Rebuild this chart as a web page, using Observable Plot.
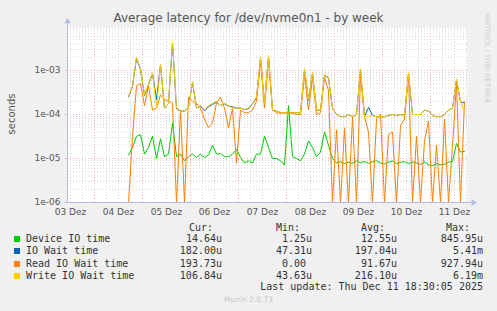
<!DOCTYPE html>
<html><head><meta charset="utf-8">
<script src="https://cdn.jsdelivr.net/npm/d3@7"></script>
<script src="https://cdn.jsdelivr.net/npm/@observablehq/plot@0.6"></script>
<style>
html,body{margin:0;padding:0;background:#f0f0f0;}
#wrap{position:relative;width:497px;height:311px;background:#f0f0f0;overflow:hidden;font-family:"DejaVu Sans",sans-serif;}
#chart{position:absolute;left:0;top:0;}
.t{position:absolute;white-space:pre;}
.mono{font-family:"DejaVu Sans Mono",monospace;font-size:10px;color:#333;line-height:12px;height:12px;}
.sq{position:absolute;width:6px;height:6px;}
</style></head><body><div id="wrap"><div id="chart"></div></div>
<script>
// ---- data (seconds), sampled every 2 hours from 04 Dec 17:00 UTC ----
const firstSample = Date.UTC(2025, 11, 4, 17, 0);
const stepHours = 2;

const deviceIO = [1.2e-5,1.78e-5,3.2e-5,3.5e-5,1.26e-5,1.78e-5,3.2e-5,1.0e-5,2.8e-5,1.1e-5,
 1.26e-5,6.3e-5,1.1e-5,1.26e-5,8.9e-6,1.1e-5,1.26e-5,1.05e-5,1.26e-5,1.05e-5,
 1.2e-5,2.0e-5,1.26e-5,1.3e-5,1.1e-5,1.1e-5,1.26e-5,1.6e-5,1.07e-5,7.9e-6,
 8.9e-6,7.9e-6,1.26e-5,1.26e-5,3.2e-5,1.78e-5,1.0e-5,1.0e-5,8.9e-6,7.1e-6,
 1.6e-4,1.1e-5,1.0e-5,8.9e-6,1.26e-5,2.5e-5,1.78e-5,1.1e-5,1.4e-5,4.0e-5,
 2.0e-5,1.0e-5,7.9e-6,8.5e-6,7.6e-6,8.3e-6,7.8e-6,8.9e-6,8.0e-6,8.6e-6,
 7.7e-6,8.4e-6,8.9e-6,7.9e-6,7.5e-6,8.3e-6,8.8e-6,7.6e-6,8.2e-6,8.5e-6,
 7.6e-6,8.3e-6,7.9e-6,7.3e-6,8.4e-6,7.2e-6,6.9e-6,7.6e-6,7.2e-6,7.4e-6,
 8.2e-6,8.6e-6,2.2e-5,1.4e-5,1.46e-5];

const ioWait = [2.5e-4,4.3e-4,1.9e-3,1.05e-3,2.7e-4,4.8e-4,8.5e-4,2.2e-4,1.35e-3,1.4e-4,
 1.8e-4,4.3e-3,1.35e-4,1.2e-4,1.2e-4,1.45e-4,5.4e-4,1.4e-4,1.55e-4,1.2e-4,
 1.5e-4,1.7e-4,1.9e-4,1.6e-4,1.75e-4,1.55e-4,1.5e-4,1.4e-4,1.4e-4,1.3e-4,
 1.35e-4,1.75e-4,2.4e-4,1.9e-3,1.75e-4,2.1e-3,1.25e-4,1.2e-4,1.1e-4,1.1e-4,
 1.07e-4,1.1e-4,1.1e-4,1.1e-4,1.05e-3,2.1e-4,8.6e-4,1.25e-4,1.25e-4,7.8e-4,
 6.8e-4,1.35e-4,1.0e-4,9.0e-5,8.9e-5,1.0e-4,8.9e-5,1.0e-4,1.05e-3,9.0e-5,
 1.45e-4,9.5e-5,8.9e-5,8.9e-5,8.9e-5,9.5e-5,1.0e-4,9.5e-5,1.0e-4,9.5e-5,
 8.6e-4,1.0e-4,1.0e-4,1.0e-4,1.25e-4,1.2e-4,9.5e-5,8.9e-5,8.9e-5,1.0e-4,
 1.25e-4,1.4e-4,6.0e-4,1.95e-4,1.82e-4];

const readWait = [0,3.2e-5,4.5e-4,5.0e-4,1.6e-4,4.5e-4,1.26e-4,1.4e-4,2.8e-4,2.2e-4,
 2.0e-4,1.8e-4,0,1.26e-4,0,2.5e-4,2.0e-4,1.8e-4,1.4e-4,7.9e-5,
 5.0e-5,6.3e-5,1.8e-4,2.5e-4,1.4e-4,5.0e-5,1.4e-4,7.9e-6,1.26e-4,1.1e-4,
 1.1e-4,1.26e-4,2.0e-4,1.6e-3,1.4e-4,1.8e-3,1.26e-4,1.1e-4,1.07e-4,1.1e-4,
 1.1e-4,1.07e-4,1.0e-4,1.0e-4,8.0e-4,1.26e-4,7.0e-4,1.0e-4,1.1e-4,7.0e-4,
 3.5e-4,0,4.5e-5,0,5.0e-5,0,8.9e-5,0,8.0e-4,8.9e-5,
 4.0e-5,0,7.9e-5,1.0e-4,0,3.5e-5,4.0e-5,0,5.6e-5,7.9e-5,
 8.0e-4,0,3.2e-5,0,2.5e-5,7.1e-5,0,2.0e-5,0,7.9e-5,
 0,2.0e-5,5.0e-4,0,1.94e-4];

const writeWait = [2.6e-4,4.5e-4,2.0e-3,1.1e-3,2.8e-4,5.0e-4,8.9e-4,1.4e-4,1.4e-3,1.4e-4,
 1.8e-4,4.5e-3,1.4e-4,1.2e-4,1.2e-4,1.4e-4,5.6e-4,1.4e-4,1.6e-4,1.26e-4,
 1.6e-4,1.8e-4,2.0e-4,1.6e-4,1.8e-4,1.6e-4,1.4e-4,1.4e-4,1.4e-4,1.3e-4,
 1.4e-4,1.8e-4,2.5e-4,2.0e-3,1.8e-4,2.2e-3,1.26e-4,1.2e-4,1.1e-4,1.1e-4,
 1.07e-4,1.1e-4,1.1e-4,1.1e-4,1.1e-3,2.2e-4,9.0e-4,1.26e-4,1.26e-4,8.0e-4,
 7.0e-4,1.4e-4,1.0e-4,8.9e-5,8.9e-5,1.0e-4,8.9e-5,1.0e-4,1.1e-3,8.9e-5,
 8.9e-5,9.5e-5,8.9e-5,8.9e-5,8.9e-5,9.5e-5,1.0e-4,9.5e-5,1.0e-4,9.5e-5,
 8.9e-4,1.0e-4,1.0e-4,1.0e-4,1.26e-4,1.2e-4,9.5e-5,8.9e-5,8.9e-5,1.0e-4,
 1.26e-4,1.4e-4,6.3e-4,2.0e-4,1.07e-4];

const seriesNames = ["Device IO time","IO Wait time","Read IO Wait time","Write IO Wait time"];
const seriesColors = ["#00cc00","#0066b3","#ff8000","#ffcc00"];
const curVals = ["14.64u","182.00u","193.73u","106.84u"];
const minVals = ["1.25u","47.31u","0.00 ","43.63u"];
const avgVals = ["12.55u","197.04u","91.67u","216.10u"];
const maxVals = ["845.95u","5.41m","927.94u","6.19m"];
const yTicks = [1e-6,1e-5,1e-4,1e-3];
const dayLabels = ["03","04","05","06","07","08","09","10","11"];

const titleText = "Average latency for /dev/nvme0n1 - by week";
const yLabel = "seconds";
const lastUpdate = "Last update: Thu Dec 11 18:30:05 2025";
const footer = "Munin 2.0.73";
const sideText = "RRDTOOL / TOBI OETIKER";

// ---- scales / helpers ----
const start = new Date(Date.UTC(2025, 11, 3, 10, 30));
const end = new Date(Date.UTC(2025, 11, 11, 18, 30));
const yTop = 9.5e-3;
const floorV = 1e-6;
const allSeries = [deviceIO, ioWait, readWait, writeWait];
const tables = allSeries.map(vals => vals.map((v, i) => ({t: new Date(firstSample + i * stepHours * 3600e3), v})));

const minorY = [];
for (const d of yTicks) for (let m = 2; m <= 9; m++) if (m * d < yTop) minorY.push(m * d);
const midnights = d3.utcDay.range(start, end);
const sixHours = d3.utcHour.every(6).range(start, end).filter(d => d.getUTCHours() !== 0);
const noons = dayLabels.map((_, i) => new Date(Date.UTC(2025, 11, 3 + i, 12)));

const axisColor = "#b4bce6";
const gridColor = "#d4d4d4";
const majorColor = "#f0b4b4";

const chart = Plot.plot({
  width: 497, height: 222,
  marginLeft: 67, marginRight: 30, marginTop: 27, marginBottom: 20,
  x: {type: "utc", domain: [start, end]},
  y: {type: "log", domain: [1e-6, yTop]},
  style: {background: "transparent", fontFamily: "DejaVu Sans", fontSize: "9px", color: "#555", overflow: "visible"},
  marks: [
    Plot.frame({fill: "white", stroke: "none"}),
    Plot.ruleY(minorY, {stroke: gridColor, strokeDasharray: "1,2"}),
    Plot.ruleX(sixHours, {stroke: gridColor, strokeDasharray: "1,2"}),
    Plot.ruleY(yTicks.slice(1), {stroke: majorColor, strokeDasharray: "1,2"}),
    Plot.ruleX(midnights, {stroke: majorColor, strokeDasharray: "1,2"}),
    ...tables.map((tbl, k) => Plot.line(tbl, {x: "t", y: d => Math.max(d.v, floorV), stroke: seriesColors[k], strokeWidth: 1, curve: "linear"})),
    Plot.ruleX([start], {stroke: axisColor, insetTop: -4}),
    Plot.ruleY([1e-6], {stroke: axisColor, insetRight: -5, insetLeft: -3}),
    Plot.dot([start], {x: d => d, y: () => yTop, symbol: "triangle", r: 2.4, fill: axisColor, stroke: "none", dy: -6}),
    Plot.dot([end], {x: d => d, y: () => 1e-6, symbol: "triangle", r: 2.4, rotate: 90, fill: axisColor, stroke: "none", dx: 6}),
    Plot.axisY(yTicks, {tickSize: 2, tickPadding: 5, stroke: majorColor, tickFormat: d => "1e-" + String(-Math.round(Math.log10(d))).padStart(2, "0"), label: null}),
    Plot.axisX(noons, {tickSize: 0, tickPadding: 6, tickFormat: (d, i) => dayLabels[i] + " Dez", label: null})
  ]
});
document.getElementById("chart").appendChild(chart);

// ---- text, legend ----
const wrap = document.getElementById("wrap");
function addText(txt, css, cls) {
  const s = document.createElement("div");
  s.className = "t" + (cls ? " " + cls : "");
  s.textContent = txt;
  Object.assign(s.style, css);
  wrap.appendChild(s);
  return s;
}
addText(titleText, {left: "0", width: "497px", textAlign: "center", top: "11px", fontSize: "12px", color: "#555", lineHeight: "15px"});
addText(yLabel, {left: "12px", top: "114px", fontSize: "10px", color: "#555", transform: "translate(-50%,-50%) rotate(-90deg)", lineHeight: "12px"});
addText(sideText, {left: "487px", top: "58px", fontSize: "7px", color: "#cdcdcd", transform: "translate(-50%,-50%) rotate(90deg)", lineHeight: "8px"});

const headerY = 228.3, rowY = [239.3, 251.3, 263.5, 275.6];
const colRightsH = [213, 300, 385, 470];
const colRights = [222, 312, 397, 483];
["Cur:", "Min:", "Avg:", "Max:"].forEach((h, j) => addText(h, {right: (497 - colRightsH[j]) + "px", top: (headerY - 6) + "px"}, "mono"));
seriesNames.forEach((n, k) => {
  const sq = document.createElement("div");
  sq.className = "sq";
  Object.assign(sq.style, {left: "14px", top: (rowY[k] - 3) + "px", background: seriesColors[k]});
  wrap.appendChild(sq);
  addText(n, {left: "26px", top: (rowY[k] - 6) + "px"}, "mono");
  [curVals, minVals, avgVals, maxVals].forEach((col, j) => addText(col[k], {right: (497 - colRights[j]) + "px", top: (rowY[k] - 6) + "px"}, "mono"));
});
addText(lastUpdate, {right: (497 - 483) + "px", top: (287 - 6) + "px"}, "mono");
addText(footer, {left: "0", width: "497px", textAlign: "center", top: "295px", fontSize: "7.5px", color: "#c8c8c8", lineHeight: "10px"});
</script></body></html>
